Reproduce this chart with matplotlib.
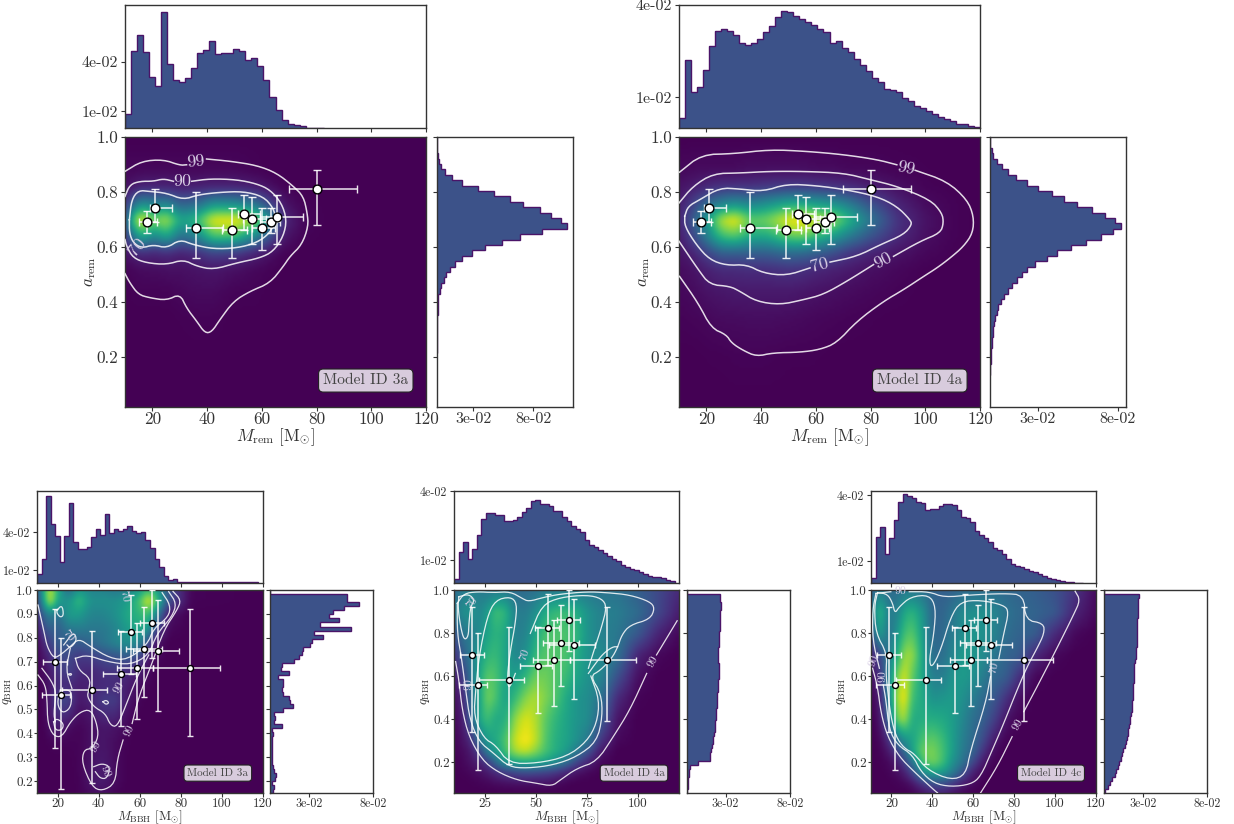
"""Remnant / BBH mass-spin density panels with marginal histograms (five models)."""

import numpy as np
import matplotlib

matplotlib.use("Agg")
import matplotlib.pyplot as plt

plt.rcParams["font.family"] = ["cmr10", "DejaVu Serif"]
plt.rcParams["mathtext.fontset"] = "cm"
plt.rcParams["axes.unicode_minus"] = False

WIDTH, HEIGHT = 1234, 824
HIST_FILL = "#3c5289"
HIST_EDGE = "#4a1468"

# --- observed events: x, x_lo, x_hi, y, y_lo, y_hi ---
REM_EVENTS = [
    (18.2, 15.0, 21.8, 0.69, 0.65, 0.73),
    (20.8, 19.0, 27.3, 0.74, 0.69, 0.81),
    (36.0, 32.2, 45.7, 0.67, 0.56, 0.80),
    (49.2, 45.6, 54.6, 0.66, 0.56, 0.74),
    (53.6, 51.2, 59.3, 0.72, 0.66, 0.79),
    (56.5, 53.0, 61.5, 0.70, 0.61, 0.78),
    (59.9, 56.3, 64.8, 0.67, 0.59, 0.74),
    (63.2, 59.3, 66.5, 0.69, 0.65, 0.74),
    (65.7, 59.3, 75.2, 0.71, 0.61, 0.79),
    (80.3, 70.0, 94.9, 0.81, 0.68, 0.88),
]
BBH_EVENTS = [
    (18.6, 13.1, 24.5, 0.70, 0.34, 0.92),
    (21.5, 12.3, 26.0, 0.56, 0.165, 0.80),
    (37.0, 22.2, 44.1, 0.58, 0.19, 0.83),
    (51.1, 42.3, 58.0, 0.647, 0.43, 0.83),
    (55.8, 49.6, 61.3, 0.824, 0.65, 0.98),
    (58.9, 48.8, 66.7, 0.675, 0.46, 0.86),
    (62.2, 53.4, 71.0, 0.754, 0.554, 0.93),
    (66.0, 60.2, 71.6, 0.86, 0.715, 1.0),
    (68.8, 56.5, 78.9, 0.743, 0.495, 0.96),
    (84.6, 66.7, 99.2, 0.675, 0.39, 0.92),
]

# --- mass histograms (units of 1e-2, bins of 2.2 Msun from 10 to 120) ---
MASS_REM_3A = [0.86, 4.64, 5.57, 4.6, 3.05, 2.53, 6.98, 3.84, 2.89, 2.79, 3.0, 3.6, 4.5, 4.72, 5.23,
               4.48, 4.5, 4.54, 4.78, 4.64, 4.08, 4.2, 3.76, 2.89, 1.85, 1.11, 0.5, 0.26, 0.2, 0.1,
               0.03, 0.02, 0.01]
MASS_REM_4A = [0.34, 2.2, 1.16, 1.32, 1.88, 2.67, 3.17, 3.23, 3.14, 3.02, 2.75, 2.7, 2.77, 2.91, 3.13,
               3.32, 3.6, 3.82, 3.77, 3.65, 3.54, 3.46, 3.35, 3.22, 3.11, 2.78, 2.82, 2.6, 2.46, 2.23,
               2.04, 1.84, 1.64, 1.48, 1.28, 1.23, 1.16, 0.96, 0.87, 0.71, 0.64, 0.55, 0.47, 0.36, 0.3,
               0.23, 0.14, 0.12, 0.05, 0.03]
MASS_BBH_3A = [0.73, 1.88, 6.9, 4.65, 3.7, 1.65, 3.73, 6.3, 3.26, 2.69, 2.69, 2.82, 3.65, 4.23, 3.8,
               5.48, 3.92, 4.3, 4.12, 4.23, 4.5, 4.12, 3.92, 4.05, 3.4, 2.8, 1.9, 1.25, 0.52, 0.26,
               0.31, 0.08, 0.05, 0.05, 0.05, 0.05, 0.05, 0.05, 0.05, 0.05, 0.05, 0.05, 0.05, 0.05, 0.05,
               0.05, 0.05, 0.05, 0.05]
MASS_BBH_4A = [0.17, 1.35, 1.77, 1.04, 1.48, 2.1, 2.8, 3.03, 3.04, 2.96, 2.94, 2.7, 2.68, 2.72, 2.86,
               3.1, 3.26, 3.55, 3.6, 3.42, 3.45, 3.36, 3.14, 3.12, 2.87, 2.68, 2.46, 2.35, 2.22, 1.86,
               1.67, 1.57, 1.45, 1.3, 1.16, 1.06, 0.94, 0.8, 0.7, 0.6, 0.55, 0.46, 0.4, 0.32, 0.28,
               0.25, 0.2, 0.14, 0.1]
MASS_BBH_4C = [0.23, 2.09, 2.55, 1.34, 2.06, 2.87, 3.66, 4.05, 3.97, 3.86, 3.7, 3.63, 3.31, 3.36, 3.36,
               3.5, 3.6, 3.59, 3.55, 3.33, 3.02, 2.96, 2.79, 2.37, 2.17, 2.06, 1.88, 1.6, 1.48, 1.3,
               1.1, 0.87, 0.79, 0.73, 0.64, 0.55, 0.49, 0.43, 0.34, 0.21, 0.18, 0.12, 0.08, 0.05, 0.03,
               0.02, 0.01]

# --- spin / mass-ratio histograms (1e-2), listed from the top bin down ---
SPIN_REM_3A = [0, 0, 0.03, 0.08, 0.14, 0.33, 0.64, 1.25, 2.08, 3.4, 4.78, 6.06, 7.17, 8.56, 9.53, 10.33,
               10.83, 8.75, 6.94, 5.42, 3.97, 2.92, 2.08, 1.53, 1.11, 0.78, 0.56, 0.36, 0.22, 0.11, 0.08,
               0.06, 0.05, 0.04, 0.03, 0.03, 0.02, 0.02, 0.01, 0.01]
SPIN_REM_4A = [0, 0.02, 0.1, 0.21, 0.42, 0.73, 1.1, 1.63, 2.29, 3.02, 3.85, 4.65, 5.42, 6.35, 7.19, 7.81,
               8.17, 7.71, 6.92, 5.98, 5.04, 4.17, 3.54, 2.81, 2.29, 1.98, 1.67, 1.35, 1.15, 0.88, 0.69,
               0.52, 0.42, 0.31, 0.25, 0.21, 0.17, 0.125, 0.1, 0.08, 0.06, 0.04, 0.02, 0.02]
RATIO_BBH_3A = [0, 6.0, 6.0, 6.92, 5.74, 4.91, 4.57, 5.35, 3.92, 6.27, 3.39, 4.1, 3.26, 3.13, 2.53, 2.48,
                2.22, 1.83, 0.91, 0.84, 1.51, 0.65, 0.99, 1.04, 0.91, 1.04, 1.51, 1.57, 1.75, 0.99, 0.31,
                0.39, 0.31, 0.97, 0.13, 0.2, 0.15, 0.15, 0.13, 0.13, 0.13, 0.13, 0.18, 0.22, 0.3, 0.43,
                0.39, 0.13, 0.33, 0.26]
RATIO_BBH_4A = [0, 2.56, 2.58, 2.61, 2.61, 2.58, 2.56, 2.56, 2.53, 2.53, 2.51, 2.51, 2.48, 2.48, 2.43, 2.43,
                2.4, 2.4, 2.45, 2.51, 2.51, 2.45, 2.43, 2.4, 2.37, 2.35, 2.32, 2.3, 2.3, 2.27, 2.25, 2.22,
                2.19, 2.17, 2.14, 2.09, 2.05, 2.01, 1.96, 1.88, 1.8, 1.78, 0.86, 0.21, 0.18, 0.13, 0.1,
                0.07, 0.04, 0.02]
RATIO_BBH_4C = [0, 2.69, 2.66, 2.66, 2.64, 2.61, 2.61, 2.58, 2.58, 2.58, 2.56, 2.56, 2.53, 2.53, 2.5, 2.48,
                2.46, 2.41, 2.35, 2.33, 2.33, 2.3, 2.3, 2.27, 2.27, 2.25, 2.22, 2.2, 2.17, 2.14, 2.09, 2.04,
                1.99, 1.94, 1.89, 1.83, 1.78, 1.7, 1.6, 1.5, 1.42, 1.32, 1.2, 1.08, 0.96, 0.82, 0.66, 0.5,
                0.28, 0.1]

X_REM_3A = [10, 13, 16, 20, 25, 30, 36, 42, 50, 57, 63, 68, 75, 85, 120]
Y_REM = [1.0, 0.88, 0.82, 0.76, 0.70, 0.64, 0.58, 0.52, 0.44, 0.34, 0.2, 0.02]
DENSITY_REM_3A = [
    [0, 0, 0, 0, 0, 0, 0, 0, 0, 0, 0, 0, 0, 0, 0],
    [.02, .02, .02, .02, .02, .02, .02, .02, .02, .01, 0, 0, 0, 0, 0],
    [.04, .07, .10, .10, .10, .08, .09, .10, .10, .08, .04, .01, 0, 0, 0],
    [.15, .38, .50, .42, .45, .30, .34, .50, .48, .38, .20, .05, .01, 0, 0],
    [.25, .85, 1.0, .78, .90, .58, .68, .98, 1.0, .88, .50, .12, .02, 0, 0],
    [.15, .46, .62, .45, .60, .36, .44, .72, .70, .48, .24, .06, .01, 0, 0],
    [.04, .10, .13, .10, .13, .09, .13, .20, .17, .10, .04, .01, 0, 0, 0],
    [.01, .02, .03, .03, .04, .04, .05, .06, .04, .02, .01, 0, 0, 0, 0],
    [0, .01, .01, .01, .01, .02, .03, .03, .01, .01, 0, 0, 0, 0, 0],
    [0, 0, 0, 0, 0, .005, .01, .01, 0, 0, 0, 0, 0, 0, 0],
    [0, 0, 0, 0, 0, 0, 0, 0, 0, 0, 0, 0, 0, 0, 0],
    [0, 0, 0, 0, 0, 0, 0, 0, 0, 0, 0, 0, 0, 0, 0],
]
X_REM_4A = [10, 15, 20, 25, 30, 36, 42, 50, 55, 60, 66, 72, 80, 90, 100, 110, 120]
DENSITY_REM_4A = [
    [0, 0, 0, 0, 0, 0, 0, 0, 0, 0, 0, 0, 0, 0, 0, 0, 0],
    [.02, .03, .03, .03, .03, .04, .04, .04, .04, .03, .03, .02, .02, .01, .005, 0, 0],
    [.05, .08, .12, .15, .15, .15, .17, .18, .18, .17, .15, .13, .08, .04, .01, .005, 0],
    [.08, .20, .34, .44, .50, .44, .50, .60, .60, .56, .52, .42, .25, .10, .03, .01, 0],
    [.10, .30, .56, .90, 1.0, .76, .80, .98, 1.0, .92, .86, .66, .40, .15, .05, .01, 0],
    [.07, .22, .44, .68, .74, .60, .60, .76, .78, .68, .56, .42, .26, .12, .04, .01, 0],
    [.05, .10, .20, .30, .30, .30, .30, .35, .34, .30, .24, .16, .10, .05, .02, .005, 0],
    [.03, .05, .09, .12, .12, .13, .13, .15, .14, .11, .09, .07, .04, .02, .005, 0, 0],
    [.02, .03, .05, .06, .07, .07, .07, .07, .06, .05, .04, .03, .02, .01, 0, 0, 0],
    [.01, .015, .02, .03, .03, .035, .035, .03, .025, .02, .015, .01, .005, 0, 0, 0, 0],
    [0, 0, .005, .005, .01, .01, .01, .005, .005, .005, 0, 0, 0, 0, 0, 0, 0],
    [0, 0, 0, 0, 0, 0, 0, 0, 0, 0, 0, 0, 0, 0, 0, 0, 0],
]
X_BBH_3A = [10, 13, 16, 20, 25, 30, 36, 42, 48, 54, 60, 64, 68, 74, 85, 120]
Y_BBH_3A = [1.0, .96, .9, .84, .78, .72, .66, .6, .54, .48, .42, .36, .28, .2, .15]
DENSITY_BBH_3A = [
    [.25, .65, .95, .6, .35, .55, .45, .45, .4, .45, .55, .7, .6, .25, .01, 0],
    [.2, .62, .95, .55, .5, .68, .5, .5, .5, .55, .7, .98, .75, .25, .01, 0],
    [.12, .35, .45, .35, .55, .55, .45, .45, .5, .6, .65, .72, .45, .05, 0, 0],
    [.05, .25, .3, .3, .4, .42, .4, .4, .45, .55, .6, .55, .2, .02, 0, 0],
    [.02, .12, .2, .3, .28, .28, .33, .38, .45, .5, .45, .2, .05, 0, 0, 0],
    [.01, .06, .12, .22, .22, .16, .18, .22, .25, .28, .2, .06, .02, 0, 0, 0],
    [.01, .03, .08, .15, .2, .12, .1, .14, .15, .12, .08, .03, 0, 0, 0, 0],
    [0, .02, .06, .12, .12, .08, .1, .12, .12, .08, .03, .01, 0, 0, 0, 0],
    [0, .01, .08, .22, .2, .06, .1, .18, .18, .06, .01, 0, 0, 0, 0, 0],
    [0, .01, .07, .14, .12, .03, .06, .12, .12, .03, 0, 0, 0, 0, 0, 0],
    [0, 0, .05, .08, .03, .01, .04, .06, .05, .01, 0, 0, 0, 0, 0, 0],
    [0, 0, .01, .01, .01, .01, .04, .06, .03, .005, 0, 0, 0, 0, 0, 0],
    [0, 0, 0, 0, 0, .01, .05, .07, .03, 0, 0, 0, 0, 0, 0, 0],
    [0, 0, 0, 0, 0, .005, .06, .08, .03, 0, 0, 0, 0, 0, 0, 0],
    [0, 0, 0, 0, 0, .005, .03, .04, .01, 0, 0, 0, 0, 0, 0, 0],
]
X_BBH_4 = [10, 14, 18, 22, 26, 30, 35, 40, 45, 50, 55, 60, 65, 70, 76, 82, 90, 100, 110, 120]
Y_BBH_4 = [1.0, .9, .8, .7, .6, .5, .4, .3, .25, .2, .15, .1, .056]
DENSITY_BBH_4A = [
    [.35, .42, .45, .42, .4, .42, .42, .35, .35, .38, .42, .42, .42, .42, .4, .38, .38, .3, .22, .12],
    [.4, .5, .52, .45, .55, .7, .65, .42, .42, .5, .62, .68, .68, .62, .5, .44, .42, .35, .22, .08],
    [.25, .4, .42, .48, .58, .65, .6, .42, .45, .6, .72, .72, .72, .66, .5, .44, .4, .28, .1, .02],
    [.15, .3, .42, .55, .65, .68, .58, .45, .5, .68, .74, .72, .72, .62, .5, .48, .38, .1, .02, 0],
    [.08, .18, .38, .6, .75, .72, .58, .55, .66, .78, .78, .72, .68, .58, .5, .46, .25, .04, 0, 0],
    [.03, .12, .35, .58, .8, .72, .55, .68, .82, .88, .8, .72, .6, .52, .48, .38, .12, .01, 0, 0],
    [.02, .08, .3, .6, .7, .6, .62, .85, .95, .88, .74, .65, .58, .52, .48, .3, .05, 0, 0, 0],
    [.01, .05, .12, .4, .55, .6, .72, .93, 1.0, .9, .72, .62, .58, .5, .4, .15, .02, 0, 0, 0],
    [.01, .03, .07, .2, .45, .55, .7, .88, .92, .82, .7, .62, .55, .42, .25, .06, 0, 0, 0, 0],
    [0, .02, .05, .1, .18, .35, .55, .62, .64, .62, .58, .5, .38, .22, .1, .02, 0, 0, 0, 0],
    [0, .01, .02, .04, .07, .12, .18, .22, .24, .22, .2, .16, .1, .05, .02, 0, 0, 0, 0, 0],
    [0, 0, .005, .01, .02, .03, .04, .05, .05, .05, .05, .03, .01, 0, 0, 0, 0, 0, 0, 0],
    [0, 0, 0, 0, 0, 0, 0, 0, 0, 0, 0, 0, 0, 0, 0, 0, 0, 0, 0, 0],
]
DENSITY_BBH_4C = [
    [.3, .45, .35, .35, .42, .4, .38, .32, .3, .32, .35, .36, .36, .36, .34, .32, .3, .25, .15, .03],
    [.4, .68, .42, .42, .6, .65, .52, .32, .32, .4, .48, .5, .5, .46, .38, .34, .32, .28, .1, .02],
    [.25, .6, .35, .5, .7, .75, .55, .32, .34, .42, .5, .52, .5, .45, .36, .32, .3, .12, .02, 0],
    [.1, .22, .4, .6, .85, .85, .58, .35, .36, .46, .55, .52, .48, .4, .32, .3, .12, .02, 0, 0],
    [.04, .14, .42, .78, .95, .75, .58, .42, .42, .52, .55, .5, .42, .33, .3, .15, .02, 0, 0, 0],
    [.01, .08, .42, .85, 1.0, .68, .6, .5, .52, .55, .5, .42, .34, .28, .15, .04, 0, 0, 0, 0],
    [0, .05, .3, .78, .88, .6, .62, .62, .6, .55, .46, .36, .3, .2, .05, .01, 0, 0, 0, 0],
    [0, .02, .12, .35, .5, .58, .72, .76, .68, .55, .42, .34, .22, .07, .01, 0, 0, 0, 0, 0],
    [0, .01, .06, .18, .35, .58, .78, .8, .7, .55, .4, .32, .14, .03, 0, 0, 0, 0, 0, 0],
    [0, .005, .02, .07, .2, .4, .72, .8, .7, .5, .38, .22, .06, .01, 0, 0, 0, 0, 0, 0],
    [0, 0, .01, .03, .08, .22, .5, .6, .55, .42, .25, .08, .02, 0, 0, 0, 0, 0, 0, 0],
    [0, 0, 0, .01, .02, .06, .18, .26, .26, .18, .08, .03, 0, 0, 0, 0, 0, 0, 0, 0],
    [0, 0, 0, 0, 0, .01, .05, .1, .1, .05, .02, 0, 0, 0, 0, 0, 0, 0, 0, 0],
]

# --- credible contours, each a list of (x, y) runs; the runs break where a label sits ---
CONTOURS_REM_3A = [
    [(10, .875), (16.1, .912), (24, .918), (30.1, .897), (32.5, .899)],
    [(39.8, .92), (48.4, .912), (58.1, .897), (65.4, .869), (71.5, .821), (75.2, .784), (76.6, .724),
     (77, .675), (74.6, .608), (70.3, .566), (67.9, .53), (63, .469), (55.7, .439), (49.6, .402),
     (44.7, .336), (41.7, .291), (39.2, .287), (36.2, .33), (32.5, .378), (30.1, .429), (25.2, .406),
     (19.1, .415), (14.9, .427), (11.8, .469), (10, .503)],
    [(10, .784), (11.8, .827), (15.5, .839), (20.4, .839), (24, .848), (27.7, .839)],
    [(34.4, .839), (41.1, .848), (50.8, .845), (58.1, .83), (63, .808), (67.2, .76), (69.1, .699),
     (67.9, .639), (64.2, .584), (59.3, .56), (50.8, .542), (42.3, .518), (36.2, .53), (31.3, .554),
     (25.2, .536), (17.9, .542), (13, .56), (10.6, .602), (10, .627)],
    [(11.6, .699), (12.4, .772), (14.9, .806), (19.1, .802), (25.2, .796), (31.3, .772), (36.8, .79),
     (44.7, .799), (53.2, .802), (60.5, .784), (64.2, .742), (65.2, .699), (63, .651), (58.1, .615),
     (50.8, .596), (42.3, .593), (35, .608), (30.1, .627), (25.2, .596), (20.4, .608), (16.1, .596),
     (13, .615), (11.6, .651), (11.6, .699)],
]
CONTOURS_REM_4A = [
    [(10.2, .872), (18.2, .936), (29.8, .939), (43.2, .954), (56.6, .948), (70.1, .936), (82.3, .918),
     (89.6, .899)],
    [(96.3, .879), (107.9, .839), (115.3, .772), (117.7, .712), (117.4, .651), (114, .602), (109.1, .56),
     (104.3, .524), (99.4, .493), (92.1, .445), (84.7, .402), (75, .33), (67.6, .251), (61.5, .227),
     (54.2, .217), (44.4, .215), (38.3, .202), (33.4, .224), (29.2, .251), (27.3, .281), (21.8, .305),
     (17, .396), (10.2, .493)],
    [(10, .76), (15.1, .821), (22.5, .867), (32.2, .869), (43.2, .875), (55.4, .875), (70.1, .869),
     (79.8, .845), (89.6, .821), (101.8, .772), (106.1, .724), (106.7, .687), (105.5, .651), (98.2, .621),
     (88.4, .566)],
    [(81.1, .536), (71.3, .475), (62.7, .427), (55.4, .408), (46.9, .39), (38.3, .402), (32.2, .439),
     (28.6, .457), (21.2, .463), (17, .518), (10, .621)],
    [(12.1, .712), (13.3, .748), (17.6, .772), (24.9, .815), (32.2, .811), (40.8, .802), (49.3, .829),
     (60.3, .823), (71.3, .808), (82.3, .784), (89.6, .748), (94.5, .699), (95.1, .681), (92.1, .645),
     (83.5, .608), (75, .566), (65.2, .545)],
    [(57.9, .524), (49.3, .496), (40.8, .505), (34.7, .536), (27.3, .533), (21.2, .554), (16.3, .608),
     (12.1, .675), (12.1, .712)],
]
CONTOURS_BBH_3A = [
    [(10.5, .644), (14.1, .602), (14.9, .539), (15.2, .441), (18.1, .388), (22.2, .385), (26.2, .448),
     (31.1, .49), (36, .5), (38.9, .448), (40, .385), (36.8, .337), (32.7, .33), (31.9, .274), (36.8, .176),
     (41.7, .158), (48.1, .19), (49, .288), (51.9, .372)],
    [(56.3, .441), (59.5, .553), (66, .693), (71.7, .832), (78.2, .916), (80.1, .958), (76.2, .994)],
    [(10.5, .937), (13.6, .818), (14.9, .763), (18.1, .714), (21.4, .728), (26.2, .763), (30.3, .797),
     (36, .763), (45.7, .714), (53.8, .707), (63.6, .77), (66.8, .839), (74.1, .888), (74.9, .937),
     (70.9, .989)],
    [(28.7, .714), (34.4, .728), (44.1, .7), (55.5, .686), (64.4, .728), (68.4, .818), (75.7, .888),
     (77.9, .944), (74.1, .993)],
    [(28.7, .714), (30.3, .665), (36, .63), (35.2, .581), (34.4, .553), (37.6, .511), (43.3, .483),
     (45.7, .434), (49, .427), (53, .511), (58.7, .637), (64.4, .728)],
    [(21.4, .581), (19.7, .525), (22.2, .483), (26.2, .504), (27, .553), (26.2, .581), (21.4, .581)],
    [(18.1, .448), (19.7, .462), (23, .441), (22.2, .413), (18.9, .413), (18.1, .448)],
    [(25.4, .647), (26.2, .651), (27, .647), (26.2, .642), (25.4, .647)],
    [(42.1, .532), (43.6, .539), (45.1, .528), (43.6, .52), (42.1, .532)],
    [(19.7, .916), (22.2, .937), (23, .895), (21.4, .885), (19.7, .902), (19.7, .916)],
    [(37.6, .26), (41.7, .274), (45.7, .26), (44.1, .211), (40.8, .211), (38.4, .239)],
    [(23, .77), (27.9, .825), (29.5, .79), (26.2, .756), (24.6, .77)],
    [(12.4, .672), (17.3, .616), (19.4, .567), (18.1, .483), (18.9, .448)],
    [(26.2, .756), (24, .665), (27, .588)],
]
CONTOURS_BBH_4A = [
    [(10.8, .667), (12.4, .581), (14, .442), (17.3, .318), (23.8, .209), (31.1, .155), (40.8, .116),
     (50.6, .101), (57.9, .088), (61.9, .116), (70.1, .171), (79.8, .202), (87.9, .318), (96, .442),
     (104.2, .612)],
    [(109, .698), (119.1, .857)],
    [(11.6, .938), (11.6, .798), (13.6, .69), (15.7, .535), (17.8, .395), (22.2, .295), (29.5, .24),
     (36.8, .178), (45.7, .171), (58.7, .186), (70.1, .225), (79.8, .295), (82.6, .411), (81.9, .519),
     (76.6, .6), (81.4, .625), (87.1, .682), (90, .733), (92, .791), (96, .837), (105.8, .864), (108.2, .915),
     (105.8, .946), (96, .977), (84.7, .988), (74.9, .992), (61.9, .981), (53.8, .966), (46.5, .946),
     (43.3, .961), (37.6, .992), (29.5, .988), (21.4, .992), (14.9, .984), (11.6, .938)],
    [(75.7, .636), (79, .736), (82.2, .829), (84.7, .922), (82.2, .961), (74.9, .977), (61.9, .966), (53, .93),
     (47.3, .798)],
    [(40, .612), (36.8, .535), (36, .597), (37.6, .721), (40, .845), (40.8, .938), (37.6, .969), (30.3, .953),
     (26.2, .876), (22.2, .69), (20.6, .535), (19.7, .411), (24.6, .31), (30.3, .279), (36.8, .194),
     (50.6, .194), (65.2, .225), (74.9, .295), (79.8, .38), (81.1, .488), (76.9, .6)],
    [(75.7, .612), (79, .656), (83, .705), (87.6, .736), (90, .736)],
    [(12.4, .969), (17.3, .981), (20.1, .953), (18.1, .922), (17.3, .845), (17, .783), (14.9, .767),
     (13.2, .829), (11.9, .922), (12.4, .969)],
]
CONTOURS_BBH_4C = [
    [(10.8, .636), (13.2, .55), (14.9, .426), (18.1, .318), (23.8, .225), (31.1, .155), (40.8, .07),
     (42.5, .057)],
    [(63.6, .057), (71.7, .178), (79, .318)],
    [(84.7, .434), (91.2, .55), (100.9, .729), (109, .884), (112.3, .953), (109.8, .994)],
    [(12.4, .984), (19.7, .992)],
    [(28.7, .992), (38.4, .992), (45.7, .966), (58.7, .977), (74.9, .984), (84.7, .977), (85.5, .86),
     (94.4, .845), (94.7, .798), (91.2, .729), (86.3, .643), (81.4, .535), (74.9, .38), (69.3, .256),
     (63.6, .132), (58.7, .096), (49, .085), (40.8, .101), (34.4, .155), (30.3, .233), (23, .279),
     (18.9, .349), (17.3, .488), (16, .558)],
    [(14.1, .636), (10.8, .767), (10.8, .907), (12.4, .984)],
    [(13.2, .988), (18.1, .981), (20.6, .938), (21.7, .891), (23.8, .922), (29.5, .969), (38.4, .977),
     (41.7, .922), (40.8, .798), (38.4, .674), (39.7, .636), (44.1, .721), (49, .876), (53.8, .946),
     (63.6, .953), (74.9, .93), (77.4, .899), (74.9, .798), (72.5, .682)],
    [(68.4, .597), (66, .473), (58.7, .256), (56.3, .14), (49, .116), (37.6, .163), (31.1, .24),
     (26.2, .264), (22.2, .318), (19.7, .411), (18.1, .535), (17.3, .612), (17.8, .705), (12.4, .798),
     (11.6, .922), (13.2, .988)],
]

# contour labels: text, x, y, rotation
LABELS_REM_3A = [("99", 36.0, .91, 5), ("90", 31.0, .84, 0), ("70", 14.5, .60, 50)]
LABELS_REM_4A = [("99", 93.0, .885, -12), ("90", 84.7, .55, 28), ("70", 61.5, .535, 15)]
LABELS_BBH_3A = [("99", 38.9, .344, 60), ("99", 55.1, .413, 65), ("90", 49.8, .592, 60),
                 ("70", 25.4, .81, -50), ("70", 52.5, .975, -80), ("90", 43.3, .239, -70)]
LABELS_BBH_4A = [("99", 107.4, .667, 60), ("70", 44.4, .70, 70), ("90", 17.3, .561, 90), ("70", 18.9, .941, 50)]
LABELS_BBH_4C = [("99", 82.0, .375, 60), ("70", 70.2, .64, 75), ("90", 15.5, .60, 90), ("90", 24.3, .992, 0),
                 ("90", 11.4, .67, 70)]

X_LABEL_REM = r"$M_{\rm rem}\ [{\rm M}_{\odot}]$"
X_LABEL_BBH = r"$M_{\rm BBH}\ [{\rm M}_{\odot}]$"
Y_LABEL_REM = r"$a_{\rm rem}$"
Y_LABEL_BBH = r"$q_{\rm BBH}$"
TICKS_20 = [20, 40, 60, 80, 100, 120]
TICKS_25 = [25, 50, 75, 100]
TICKS_Y_REM = [0.2, 0.4, 0.6, 0.8, 1.0]
TICKS_Y_3A = [0.2, 0.3, 0.4, 0.5, 0.6, 0.7, 0.8, 0.9, 1.0]


def pixel_axes(fig, left, right, top, bottom):
    """Axes placed from reference pixel edges."""
    return fig.add_axes([left / WIDTH, 1 - bottom / HEIGHT, (right - left) / WIDTH, (bottom - top) / HEIGHT])


def density_image(xk, yk, z, ymin):
    """Resample the knot table on a regular grid and soften the knots with a small kernel."""
    xs = np.linspace(10, 120, 110)
    ys = np.linspace(ymin, 1.0, 110)
    z = np.array(z, dtype=float)[::-1]
    yk = np.array(yk, dtype=float)[::-1]
    along_x = np.array([np.interp(xs, xk, row) for row in z])
    fine = np.array([np.interp(ys, yk, col) for col in along_x.T]).T
    kernel = np.exp(-0.5 * (np.arange(-6, 7) / 1.6) ** 2)
    kernel /= kernel.sum()
    padded = np.pad(fine, 6, mode="edge")
    padded = np.apply_along_axis(np.convolve, 0, padded, kernel, mode="same")
    padded = np.apply_along_axis(np.convolve, 1, padded, kernel, mode="same")
    return padded[6:-6, 6:-6]


def rounded(run, passes=2):
    """Chaikin corner cutting so the read-off contour runs do not look polygonal."""
    pts = np.array(run, dtype=float)
    for _ in range(passes):
        q = 0.75 * pts[:-1] + 0.25 * pts[1:]
        r = 0.25 * pts[:-1] + 0.75 * pts[1:]
        mid = np.empty((2 * len(q), 2))
        mid[0::2], mid[1::2] = q, r
        pts = np.vstack([pts[:1], mid, pts[-1:]])
    return pts


def draw_panel(fig, box, mass, spin, xk, yk, density, contours, labels, events, model, small,
               ymin, mass_top, spin_right, mass_ticks, spin_ticks, xticks, yticks, xlabel, ylabel):
    left, right, hist_left, hist_right, hist_top, hist_bottom, top, bottom = box
    tick_fs, hist_fs, label_fs, box_fs, clabel_fs = (9.5, 8.7, 9.5, 8, 8.5) if small else (12.3, 11.5, 12.3, 11.2, 13)
    marker = 4.3 if small else 6.3
    cap = 2 if small else 3
    lw = 0.9 if small else 1.1

    ax = pixel_axes(fig, left, right, top, bottom)
    ax.imshow(density_image(xk, yk, density, ymin), origin="lower", extent=(10, 120, ymin, 1.0),
              aspect="auto", cmap="viridis", vmin=0, vmax=1, interpolation="bilinear")
    for run in contours:
        pts = rounded(run)
        ax.plot(pts[:, 0], pts[:, 1], color="white", lw=lw, alpha=0.85, zorder=3)
    for text, x, y, rot in labels:
        ax.text(x, y, text, color="#d9cfe6", fontsize=clabel_fs, rotation=rot, ha="center", va="center",
                zorder=3)
    for x, x_lo, x_hi, y, y_lo, y_hi in events:
        ax.errorbar(x, y, xerr=[[x - x_lo], [x_hi - x]], yerr=[[y - y_lo], [y_hi - y]], fmt="none",
                    ecolor="white", elinewidth=1.1, capsize=cap, capthick=1.0, alpha=0.9, zorder=4)
    ax.plot([e[0] for e in events], [e[3] for e in events], "o", ms=marker, mfc="white", mec="black",
            mew=1.0, ls="none", zorder=5)
    ax.text(0.8, 0.098, model, transform=ax.transAxes, ha="center", va="center", fontsize=box_fs,
            color="#444444", zorder=6,
            bbox=dict(boxstyle="round,pad=0.3", fc="#d8cbdd", ec="#222222", lw=0.8))
    ax.set_xlim(10, 120)
    ax.set_ylim(ymin, 1.0)
    ax.set_xticks(xticks)
    ax.set_yticks(yticks, [f"{t:.1f}" for t in yticks])
    ax.tick_params(labelsize=tick_fs, length=3, pad=2, colors="#333333")
    ax.tick_params(axis="x", pad=0.5)
    if small:
        ax.tick_params(axis="y", length=2, pad=1)
    ax.set_xlabel(xlabel, fontsize=label_fs, color="#333333")
    ax.set_ylabel(ylabel, fontsize=label_fs, color="#333333")
    ax.xaxis.set_label_coords(0.5, -0.076 if small else -0.072)
    ax.yaxis.set_label_coords(-0.1 if small else -0.09, 0.5)

    # marginal mass histogram above
    ax_top = pixel_axes(fig, left, right, hist_top, hist_bottom)
    edges = np.linspace(10, 120, 51)[: len(mass) + 1]
    mass_vals = np.array(mass) / 100
    ax_top.stairs(mass_vals, edges, fill=True, color=HIST_FILL)
    ax_top.stairs(mass_vals, edges, color=HIST_EDGE, lw=1.0)
    ax_top.set_xlim(10, 120)
    ax_top.set_ylim(0, mass_top)
    ax_top.set_xticks(xticks, [])
    ax_top.set_yticks(mass_ticks, [f"{int(round(t * 100))}e-02" for t in mass_ticks])
    ax_top.tick_params(labelsize=hist_fs, length=3, pad=2, colors="#333333")

    # marginal spin / mass-ratio histogram to the right, bins listed from the top down
    ax_side = pixel_axes(fig, hist_left, hist_right, top, bottom)
    width = (1.0 - ymin) / 50
    side_edges = 1.0 - width * np.arange(len(spin) + 1)
    spin_vals = np.array(spin) / 100
    ax_side.stairs(spin_vals, side_edges, orientation="horizontal", fill=True, color=HIST_FILL)
    ax_side.stairs(spin_vals, side_edges, orientation="horizontal", color=HIST_EDGE, lw=1.0)
    ax_side.set_ylim(ymin, 1.0)
    ax_side.set_xlim(0, spin_right)
    ax_side.set_yticks(yticks, [])
    ax_side.set_xticks(spin_ticks, [f"{int(round(t * 100))}e-02" for t in spin_ticks])
    ax_side.tick_params(labelsize=hist_fs, length=3, pad=2, colors="#333333")
    ax_side.tick_params(axis="x", pad=0.5)

    for a in (ax, ax_top, ax_side):
        for spine in a.spines.values():
            spine.set_color("#333333")
            spine.set_linewidth(1.0)


def main():
    fig = plt.figure(figsize=(WIDTH / 100, HEIGHT / 100), dpi=100)
    top_kw = dict(small=False, ymin=0.018, xticks=TICKS_20, yticks=TICKS_Y_REM, xlabel=X_LABEL_REM,
                  ylabel=Y_LABEL_REM, events=REM_EVENTS)
    draw_panel(fig, (125, 426, 437, 573, 5, 128, 137, 407), MASS_REM_3A, SPIN_REM_3A, X_REM_3A, Y_REM,
               DENSITY_REM_3A, CONTOURS_REM_3A, LABELS_REM_3A, model="Model ID 3a", mass_top=0.074,
               spin_right=0.1133, mass_ticks=[0.01, 0.04], spin_ticks=[0.03, 0.08], **top_kw)
    draw_panel(fig, (679, 980, 990, 1126, 5, 128, 137, 407), MASS_REM_4A, SPIN_REM_4A, X_REM_4A, Y_REM,
               DENSITY_REM_4A, CONTOURS_REM_4A, LABELS_REM_4A, model="Model ID 4a", mass_top=0.04,
               spin_right=0.085, mass_ticks=[0.01, 0.04], spin_ticks=[0.03, 0.08], **top_kw)

    low_kw = dict(small=True, xlabel=X_LABEL_BBH, ylabel=Y_LABEL_BBH, events=BBH_EVENTS,
                  mass_ticks=[0.01, 0.04], spin_ticks=[0.03, 0.08], spin_right=0.08)
    draw_panel(fig, (37, 263, 270, 373, 491, 583, 590, 793), MASS_BBH_3A, RATIO_BBH_3A, X_BBH_3A, Y_BBH_3A,
               DENSITY_BBH_3A, CONTOURS_BBH_3A, LABELS_BBH_3A, model="Model ID 3a", ymin=0.15,
               mass_top=0.0726, xticks=TICKS_20, yticks=TICKS_Y_3A, **low_kw)
    draw_panel(fig, (454, 679, 687, 790, 491, 583, 590, 793), MASS_BBH_4A, RATIO_BBH_4A, X_BBH_4, Y_BBH_4,
               DENSITY_BBH_4A, CONTOURS_BBH_4A, LABELS_BBH_4A, model="Model ID 4a", ymin=0.056,
               mass_top=0.04, xticks=TICKS_25, yticks=TICKS_Y_REM, **low_kw)
    draw_panel(fig, (871, 1096, 1104, 1207, 491, 583, 590, 793), MASS_BBH_4C, RATIO_BBH_4C, X_BBH_4, Y_BBH_4,
               DENSITY_BBH_4C, CONTOURS_BBH_4C, LABELS_BBH_4C, model="Model ID 4c", ymin=0.056,
               mass_top=0.0418, xticks=TICKS_20, yticks=TICKS_Y_REM, **low_kw)
    fig.savefig("out.png", dpi=100)
    plt.close(fig)


if __name__ == "__main__":
    main()
